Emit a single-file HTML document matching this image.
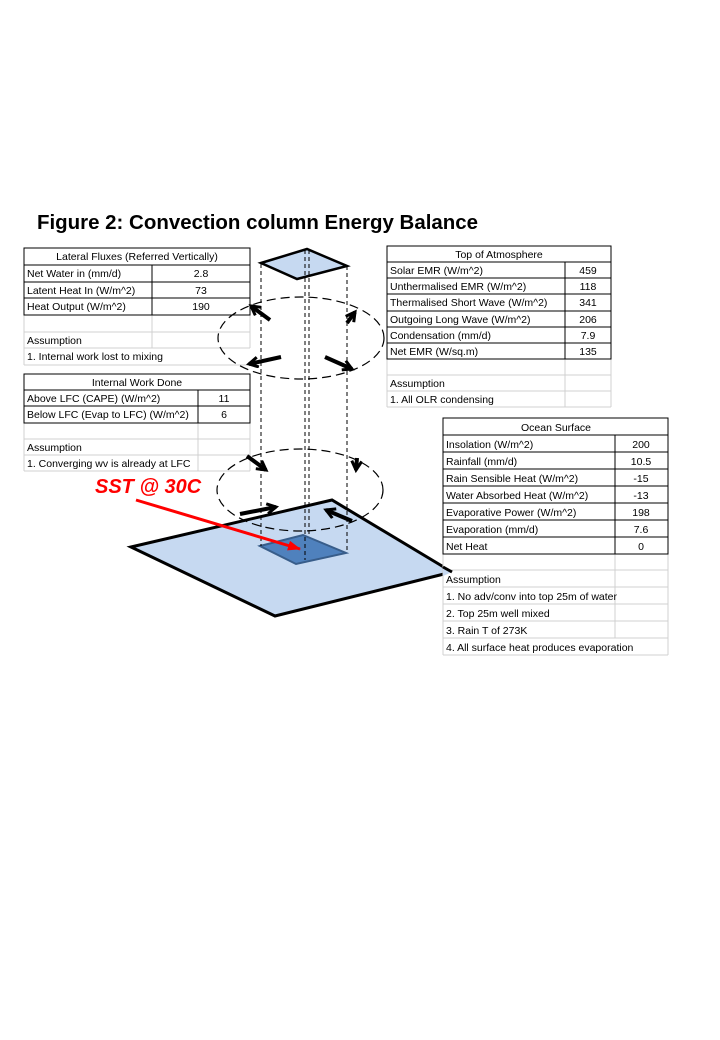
<!DOCTYPE html>
<html><head><meta charset="utf-8"><style>
html,body{margin:0;padding:0;background:#fff;}
svg{display:block;font-family:"Liberation Sans",sans-serif;}
.t{font-size:10.5px;fill:#000;}
.g{stroke:#d0d0d0;stroke-width:1;fill:none;}
.b{stroke:#000;stroke-width:1;fill:none;}
</style></head><body>
<svg width="720" height="1040" viewBox="0 0 720 1040" xmlns="http://www.w3.org/2000/svg">
<defs>
<marker id="ah" markerWidth="14" markerHeight="14" refX="10" refY="6" orient="auto" markerUnits="userSpaceOnUse"><path d="M1,1 L10,6 L1,11" fill="none" stroke="#000" stroke-width="3"/></marker>
<marker id="rh" markerWidth="14" markerHeight="12" refX="12" refY="5" orient="auto" markerUnits="userSpaceOnUse"><path d="M0,0 L13,5 L0,10 Z" fill="#f00"/></marker>
</defs>
<text x="37" y="229" font-size="20" font-weight="bold" textLength="441" lengthAdjust="spacingAndGlyphs">Figure 2:  Convection column Energy Balance</text>

<polygon points="131,547 332,500 452,572 275,616" fill="#c6d9f1" stroke="#000" stroke-width="3"/>

<!-- Ocean table -->
<rect x="443" y="554" width="225" height="101" fill="#fff"/>
<g class="g">
<line x1="443" y1="570" x2="668" y2="570"/><line x1="443" y1="587" x2="668" y2="587"/><line x1="443" y1="604" x2="668" y2="604"/>
<line x1="443" y1="621" x2="668" y2="621"/><line x1="443" y1="638" x2="668" y2="638"/><line x1="443" y1="655" x2="668" y2="655"/>
<line x1="443" y1="554" x2="443" y2="655"/><line x1="615" y1="554" x2="615" y2="638"/><line x1="668" y1="554" x2="668" y2="655"/>
</g>
<polygon points="443,567 452,572 443,576" fill="#c6d9f1"/>
<line x1="443" y1="567" x2="452" y2="572" stroke="#000" stroke-width="3"/>
<g class="b">
<rect x="443" y="418" width="225" height="136" fill="#fff"/>
<line x1="443" y1="435" x2="668" y2="435"/><line x1="443" y1="452" x2="668" y2="452"/><line x1="443" y1="469" x2="668" y2="469"/>
<line x1="443" y1="486" x2="668" y2="486"/><line x1="443" y1="503" x2="668" y2="503"/><line x1="443" y1="520" x2="668" y2="520"/>
<line x1="443" y1="537" x2="668" y2="537"/>
<line x1="615" y1="435" x2="615" y2="554"/>
</g>
<text class="t" x="556" y="431" text-anchor="middle">Ocean Surface</text>
<text class="t" x="446" y="448">Insolation (W/m^2)</text><text class="t" x="641" y="448" text-anchor="middle">200</text>
<text class="t" x="446" y="465">Rainfall (mm/d)</text><text class="t" x="641" y="465" text-anchor="middle">10.5</text>
<text class="t" x="446" y="482">Rain Sensible Heat (W/m^2)</text><text class="t" x="641" y="482" text-anchor="middle">-15</text>
<text class="t" x="446" y="499">Water Absorbed Heat (W/m^2)</text><text class="t" x="641" y="499" text-anchor="middle">-13</text>
<text class="t" x="446" y="516">Evaporative Power (W/m^2)</text><text class="t" x="641" y="516" text-anchor="middle">198</text>
<text class="t" x="446" y="533">Evaporation (mm/d)</text><text class="t" x="641" y="533" text-anchor="middle">7.6</text>
<text class="t" x="446" y="550">Net Heat</text><text class="t" x="641" y="550" text-anchor="middle">0</text>
<text class="t" x="446" y="583">Assumption</text>
<text class="t" x="446" y="600">1. No adv/conv into top 25m of water</text>
<text class="t" x="446" y="617">2. Top 25m well mixed</text>
<text class="t" x="446" y="634">3. Rain T of 273K</text>
<text class="t" x="446" y="651">4.  All surface heat produces evaporation</text>

<!-- Lateral fluxes table -->
<g class="g">
<line x1="24" y1="332" x2="250" y2="332"/><line x1="24" y1="348" x2="250" y2="348"/><line x1="24" y1="365" x2="250" y2="365"/>
<line x1="24" y1="315" x2="24" y2="365"/><line x1="152" y1="315" x2="152" y2="348"/><line x1="250" y1="315" x2="250" y2="348"/>
</g>
<g class="b">
<rect x="24" y="248" width="226" height="67" fill="#fff"/>
<line x1="24" y1="265" x2="250" y2="265"/><line x1="24" y1="282" x2="250" y2="282"/><line x1="24" y1="298" x2="250" y2="298"/>
<line x1="152" y1="265" x2="152" y2="315"/>
</g>
<text class="t" x="137" y="260" text-anchor="middle">Lateral Fluxes (Referred Vertically)</text>
<text class="t" x="27" y="277">Net Water in (mm/d)</text><text class="t" x="201" y="277" text-anchor="middle">2.8</text>
<text class="t" x="27" y="294">Latent Heat In (W/m^2)</text><text class="t" x="201" y="294" text-anchor="middle">73</text>
<text class="t" x="27" y="310">Heat Output (W/m^2)</text><text class="t" x="201" y="310" text-anchor="middle">190</text>
<text class="t" x="27" y="344">Assumption</text>
<text class="t" x="27" y="360">1. Internal work lost to mixing</text>

<!-- Internal work -->
<g class="g">
<line x1="24" y1="439" x2="250" y2="439"/><line x1="24" y1="455" x2="250" y2="455"/><line x1="24" y1="471" x2="250" y2="471"/>
<line x1="24" y1="423" x2="24" y2="471"/><line x1="198" y1="423" x2="198" y2="471"/><line x1="250" y1="423" x2="250" y2="471"/>
</g>
<g class="b">
<rect x="24" y="374" width="226" height="49" fill="#fff"/>
<line x1="24" y1="390" x2="250" y2="390"/><line x1="24" y1="406" x2="250" y2="406"/>
<line x1="198" y1="390" x2="198" y2="423"/>
</g>
<text class="t" x="137" y="386" text-anchor="middle">Internal Work Done</text>
<text class="t" x="27" y="402">Above LFC (CAPE) (W/m^2)</text><text class="t" x="224" y="402" text-anchor="middle">11</text>
<text class="t" x="27" y="418">Below LFC (Evap to LFC) (W/m^2)</text><text class="t" x="224" y="418" text-anchor="middle">6</text>
<text class="t" x="27" y="451">Assumption</text>
<text class="t" x="27" y="467">1. Converging wv is already at LFC</text>

<!-- TOA -->
<g class="g">
<line x1="387" y1="375" x2="611" y2="375"/><line x1="387" y1="391" x2="611" y2="391"/><line x1="387" y1="407" x2="611" y2="407"/>
<line x1="387" y1="359" x2="387" y2="407"/><line x1="565" y1="359" x2="565" y2="407"/><line x1="611" y1="359" x2="611" y2="407"/>
</g>
<g class="b">
<rect x="387" y="246" width="224" height="113" fill="#fff"/>
<line x1="387" y1="262" x2="611" y2="262"/><line x1="387" y1="278" x2="611" y2="278"/><line x1="387" y1="294" x2="611" y2="294"/>
<line x1="387" y1="311" x2="611" y2="311"/><line x1="387" y1="327" x2="611" y2="327"/><line x1="387" y1="343" x2="611" y2="343"/>
<line x1="565" y1="262" x2="565" y2="359"/>
</g>
<text class="t" x="499" y="258" text-anchor="middle">Top of Atmosphere</text>
<text class="t" x="390" y="274">Solar EMR (W/m^2)</text><text class="t" x="588" y="274" text-anchor="middle">459</text>
<text class="t" x="390" y="290">Unthermalised EMR (W/m^2)</text><text class="t" x="588" y="290" text-anchor="middle">118</text>
<text class="t" x="390" y="306">Thermalised Short Wave (W/m^2)</text><text class="t" x="588" y="306" text-anchor="middle">341</text>
<text class="t" x="390" y="323">Outgoing Long Wave (W/m^2)</text><text class="t" x="588" y="323" text-anchor="middle">206</text>
<text class="t" x="390" y="339">Condensation (mm/d)</text><text class="t" x="588" y="339" text-anchor="middle">7.9</text>
<text class="t" x="390" y="355">Net EMR (W/sq.m)</text><text class="t" x="588" y="355" text-anchor="middle">135</text>
<text class="t" x="390" y="387">Assumption</text>
<text class="t" x="390" y="403">1. All OLR condensing</text>

<!-- column diagram on top -->
<polygon points="260,546 303,535 346,553 296,564" fill="#4f81bd" stroke="#385d8a" stroke-width="2"/>
<polygon points="261,263 307,249 347,266 297,279" fill="#c6d9f1" stroke="#000" stroke-width="2.5"/>
<g stroke="#000" stroke-width="1" stroke-dasharray="4,3">
<line x1="261" y1="264" x2="261" y2="546"/>
<line x1="305" y1="250" x2="305" y2="560"/>
<line x1="309" y1="250" x2="309" y2="535"/>
<line x1="347" y1="266" x2="347" y2="553"/>
</g>
<g fill="none" stroke="#000" stroke-width="1.2" stroke-dasharray="9,5">
<ellipse cx="301" cy="338" rx="83" ry="41"/>
<ellipse cx="300" cy="490" rx="83" ry="41"/>
</g>
<g stroke="#000" stroke-width="4" marker-end="url(#ah)">
<line x1="270" y1="320" x2="251" y2="306"/>
<line x1="347" y1="323" x2="355" y2="312"/>
<line x1="281" y1="357" x2="249" y2="364"/>
<line x1="325" y1="357" x2="352" y2="369"/>
<line x1="247" y1="456" x2="266" y2="470"/>
<line x1="357" y1="458" x2="356" y2="470"/>
<line x1="240" y1="514" x2="276" y2="507"/>
<line x1="352" y1="521" x2="326" y2="510"/>
</g>
<text x="95" y="493" font-size="20" font-weight="bold" font-style="italic" fill="#f00">SST @ 30C</text>
<line x1="136" y1="500" x2="300" y2="549" stroke="#f00" stroke-width="3" marker-end="url(#rh)"/>
</svg>
</body></html>
